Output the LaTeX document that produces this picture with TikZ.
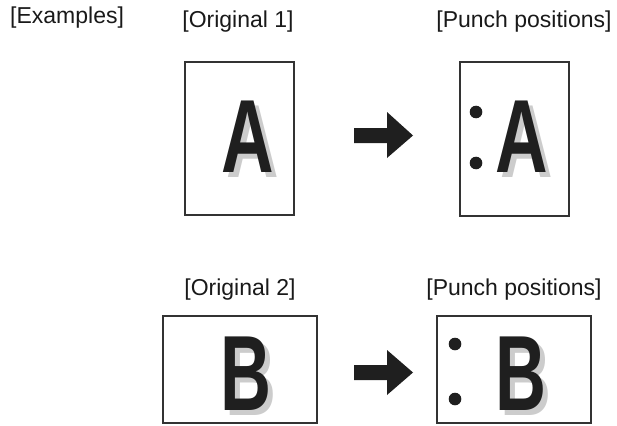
\documentclass[tikz,border=0pt]{standalone}
\usepackage{fontspec}
\setmainfont{Liberation Sans}
\begin{document}
\begin{tikzpicture}[x=1pt,y=-1pt,
  lbl/.style={inner sep=0pt, anchor=base, font=\fontsize{23}{23}\selectfont, text=black!90},
  page/.style={draw=black!80, line width=1.4pt, fill=white, inner sep=0pt},
  bigA/.style={inner sep=0pt, anchor=base, font=\fontsize{104}{104}\selectfont\bfseries},
  bigB/.style={inner sep=0pt, anchor=base, font=\fontsize{107}{107}\selectfont\bfseries},
  shade/.style={text=black!20},
  ink/.style={text=black!88},
  hole/.style={fill=black!88},
  blockarrow/.style={fill=black!88}
]
\useasboundingbox (0,0) rectangle (617,425);
% labels
\node[lbl, anchor=base west] (ex) at (10,24) {[Examples]};
\node[lbl] (o1) at (238,28) {[Original 1]};
\node[lbl] (p1) at (524,28) {[Punch positions]};
\node[lbl] (o2) at (240,295) {[Original 2]};
\node[lbl] (p2) at (514,295) {[Punch positions]};
% pages
\draw[page] (185,62) rectangle (294,215);
\draw[page] (460,62) rectangle (569,216);
\draw[page] (163,316) rectangle (317,423);
\draw[page] (437,316) rectangle (591,423);
% letters with shadows
\node[bigA, shade] (a1s) at (252.5,177) {\scalebox{0.7}[1]{A}};
\node[bigA, ink] (a1) at (247.5,172) {\scalebox{0.7}[1]{A}};
\node[bigA, shade] (a2s) at (526.5,177) {\scalebox{0.7}[1]{A}};
\node[bigA, ink] (a2) at (521.5,172) {\scalebox{0.7}[1]{A}};
\node[bigB, shade] (b1s) at (250.5,415) {\scalebox{0.66}[1]{B}};
\node[bigB, ink] (b1) at (245.5,410) {\scalebox{0.66}[1]{B}};
\node[bigB, shade] (b2s) at (525.5,415) {\scalebox{0.66}[1]{B}};
\node[bigB, ink] (b2) at (520.5,410) {\scalebox{0.66}[1]{B}};
% punch holes
\fill[hole] (476,112) circle (6.3);
\fill[hole] (476,163) circle (6.3);
\fill[hole] (455,344) circle (6.3);
\fill[hole] (455,399) circle (6.3);
% block arrows
\fill[blockarrow] (354,128) -- (387,128) -- (387,112) -- (413,135.5) -- (387,158) -- (387,143) -- (354,143) -- cycle;
\fill[blockarrow] (354,365) -- (387,365) -- (387,350) -- (413,372.5) -- (387,395) -- (387,380) -- (354,380) -- cycle;
\end{tikzpicture}
\end{document}
